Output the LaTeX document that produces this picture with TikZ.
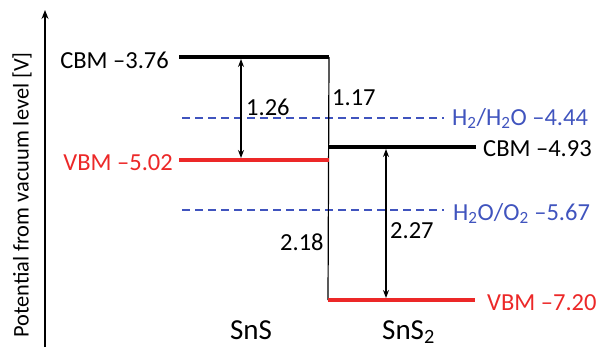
\documentclass[tikz,border=0pt]{standalone}
\usepackage{fontspec}
\setmainfont{Carlito}
\usetikzlibrary{arrows.meta}
\definecolor{lvred}{RGB}{236,40,40}
\definecolor{lvblue}{RGB}{64,84,190}
\tikzset{
  lbl/.style={inner sep=0pt, font=\fontsize{24.5}{29}\selectfont},
  matlbl/.style={inner sep=0pt, font=\fontsize{29}{33}\selectfont},
  axlbl/.style={inner sep=0pt, font=\fontsize{22.4}{26}\selectfont},
  level/.style={line width=4pt},
  thin/.style={line width=1.2pt},
  redox/.style={lvblue, line width=1.4pt, dash pattern=on 8pt off 5pt},
  gap/.style={thin, {Stealth[length=8pt,width=6pt]}-{Stealth[length=8pt,width=6pt]}}
}
\begin{document}
\begin{tikzpicture}[x=1pt,y=-1pt]
\useasboundingbox (0,0) rectangle (601,348);
% axis
\coordinate (ax0) at (45,347);
\coordinate (ax1) at (45,10);
\draw[thin, -{Stealth[length=9pt,width=7pt]}] (ax0) -- (ax1);
\node[axlbl, rotate=90] (ylab) at (22,195) {Potential from vacuum level [V]};
% SnS levels
\coordinate (c1l) at (179,57);
\coordinate (c1r) at (329,57);
\coordinate (v1l) at (179,160);
\coordinate (v1r) at (329,160);
% SnS2 levels
\coordinate (c2l) at (328,147);
\coordinate (c2r) at (476,147);
\coordinate (v2l) at (328,300);
\coordinate (v2r) at (475,300);
% redox
\coordinate (h1l) at (182,118);
\coordinate (h1r) at (444,118);
\coordinate (h2l) at (182,210);
\coordinate (h2r) at (444,210);
\draw[redox] (h1l) -- (h1r);
\draw[redox] (h2l) -- (h2r);
% vertical thin step
\draw[thin] (c1r) -- (v2l);
\draw[level] (c1l) -- (c1r);
\draw[level, lvred] (v1l) -- (v1r);
\draw[level] (c2l) -- (c2r);
\draw[level, lvred] (v2l) -- (v2r);
% gap arrows
\coordinate (g1t) at (241,59);
\coordinate (g1b) at (241,158);
\draw[gap] (g1t) -- (g1b);
\coordinate (g2t) at (386,149);
\coordinate (g2b) at (386,298);
\draw[gap] (g2t) -- (g2b);
% labels
\node[lbl, anchor=base east] (lc1) at (169,68) {CBM \textendash3.76};
\node[lbl, anchor=base east, text=lvred] (lv1) at (173,170) {VBM \textendash5.02};
\node[lbl, anchor=base west, text=lvblue] (lh1) at (452,125) {H\textsubscript{2}/H\textsubscript{2}O \textendash4.44};
\node[lbl, anchor=base west] (lc2) at (483,156) {CBM \textendash4.93};
\node[lbl, anchor=base west, text=lvblue] (lh2) at (453,220) {H\textsubscript{2}O/O\textsubscript{2} \textendash5.67};
\node[lbl, anchor=base west, text=lvred] (lv2) at (487,310) {VBM \textendash7.20};
\node[lbl, anchor=base west] (n126) at (246,115) {1.26};
\node[lbl, anchor=base west] (n117) at (332,105) {1.17};
\node[lbl, anchor=base west] (n218) at (280,250) {2.18};
\node[lbl, anchor=base west] (n227) at (390,238) {2.27};
\node[matlbl, anchor=base] (sns) at (251,339) {SnS};
\node[matlbl, anchor=base west] (sns2) at (382,339) {SnS\textsubscript{2}};
\end{tikzpicture}
\end{document}
